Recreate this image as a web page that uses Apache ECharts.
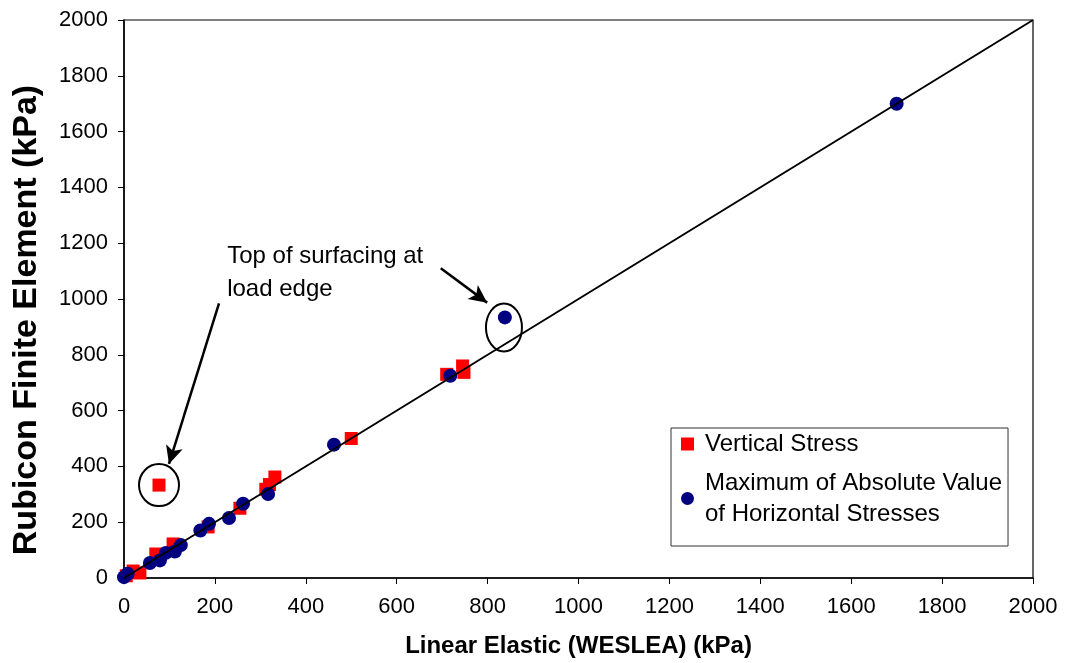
<!DOCTYPE html>
<html>
<head>
<meta charset="utf-8">
<script src="https://cdn.jsdelivr.net/npm/echarts@6/dist/echarts.min.js"></script>
<style>html,body{margin:0;padding:0;background:#fff;}#c{width:1066px;height:663px;}</style>
</head>
<body>
<div id="c"></div>
<script>
var vertName = 'Vertical Stress';
var horName = 'Maximum of Absolute Value\nof Horizontal Stresses';
var vertX = [5, 20, 35, 70, 77, 108, 185, 255, 312, 320, 332, 500, 710, 745, 748];
var vertY = [8, 25, 18, 86, 333, 122, 183, 250, 318, 335, 362, 500, 730, 760, 737];
var horX = [0, 8, 57, 79, 92, 112, 125, 168, 187, 231, 262, 317, 462, 718, 838, 1700];
var horY = [3, 15, 54, 63, 90, 95, 118, 170, 194, 215, 266, 301, 478, 725, 934, 1700];
var lineX = [0, 2000];
var lineY = [0, 2000];
var axisTicks = [0, 200, 400, 600, 800, 1000, 1200, 1400, 1600, 1800, 2000];
var annotationText = 'Top of surfacing at\nload edge';
var outlierVert = [77, 333];
var outlierHor = [838, 934];

function zip(a, b) { return a.map(function (v, i) { return [v, b[i]]; }); }

var FONT = '"Liberation Sans", Arial, sans-serif';
var chart = echarts.init(document.getElementById('c'));
var axisCommon = {
  type: 'value', min: axisTicks[0], max: axisTicks[axisTicks.length - 1],
  interval: axisTicks[1] - axisTicks[0],
  splitLine: { show: false },
  axisLine: { show: true, lineStyle: { color: '#000', width: 1.5 } },
  axisTick: { show: true, inside: false, length: 6, lineStyle: { color: '#000', width: 1 } },
  nameLocation: 'middle'
};
function fmt(v) { return String(v); }
chart.setOption({
  animation: false,
  backgroundColor: '#fff',
  grid: { left: 124, right: 33, top: 20, bottom: 85, show: true, borderColor: '#000', borderWidth: 1.2 },
  xAxis: Object.assign({}, axisCommon, {
    name: 'Linear Elastic (WESLEA) (kPa)',
    nameGap: 56,
    nameTextStyle: { fontFamily: FONT, fontSize: 24, fontWeight: 'bold', color: '#000' },
    axisLabel: { fontFamily: FONT, fontSize: 22, color: '#000', margin: 18, formatter: fmt }
  }),
  yAxis: Object.assign({}, axisCommon, {
    name: 'Rubicon Finite Element (kPa)',
    nameGap: 80,
    nameTextStyle: { fontFamily: FONT, fontSize: 34, fontWeight: 'bold', color: '#000', padding: [0, 42, 0, 0] },
    axisLabel: { fontFamily: FONT, fontSize: 22, color: '#000', margin: 16, formatter: fmt }
  }),
  legend: {
    left: 671, top: 428, orient: 'vertical',
    padding: [2, 6, 1, 10], itemGap: -6,
    itemWidth: 13, itemHeight: 13,
    borderColor: '#333', borderWidth: 1, backgroundColor: '#fff',
    textStyle: { fontFamily: FONT, fontSize: 24, color: '#000', lineHeight: 28, padding: [0, 0, 0, 6] },
    data: [
      { name: vertName, icon: 'rect' },
      { name: horName, icon: 'circle', textStyle: { lineHeight: 31, padding: [31, 0, 0, 6] } }
    ]
  },
  series: [
    { name: vertName, type: 'scatter', symbol: 'rect', symbolSize: 13, z: 2,
      itemStyle: { color: '#ff0000', opacity: 1 }, data: zip(vertX, vertY) },
    { name: horName, type: 'scatter', symbol: 'circle', symbolSize: 14, z: 3,
      itemStyle: { color: '#000080', opacity: 1 }, data: zip(horX, horY) },
    { name: 'line', type: 'line', symbol: 'none', z: 4, silent: true,
      lineStyle: { color: '#000', width: 2 }, data: zip(lineX, lineY),
      markLine: {
        silent: true, symbol: ['none', 'arrow'], symbolSize: [13, 18], label: { show: false },
        lineStyle: { color: '#000', width: 2.5, type: 'solid' },
        data: [
          [{ coord: [209, 984] }, { coord: [99, 409] }],
          [{ coord: [697, 1110] }, { coord: [799, 987] }]
        ]
      }
    }
  ]
});

var p1 = chart.convertToPixel({ gridIndex: 0 }, outlierVert);
var p2 = chart.convertToPixel({ gridIndex: 0 }, [outlierHor[0] - 2, outlierHor[1] - 36]);
var pt = chart.convertToPixel({ gridIndex: 0 }, [227, 1156]);
chart.setOption({
  graphic: [
    { type: 'ellipse', shape: { cx: p1[0], cy: p1[1], rx: 20, ry: 21 }, style: { fill: 'none', stroke: '#000', lineWidth: 2 }, z: 10 },
    { type: 'ellipse', shape: { cx: p2[0], cy: p2[1], rx: 18, ry: 24 }, style: { fill: 'none', stroke: '#000', lineWidth: 2 }, z: 10 },
    { type: 'text', x: pt[0], y: pt[1] - 16, style: { text: annotationText, font: '24px ' + FONT, fill: '#000', lineHeight: 33, textVerticalAlign: 'top' }, z: 10 }
  ]
});
</script>
</body>
</html>
